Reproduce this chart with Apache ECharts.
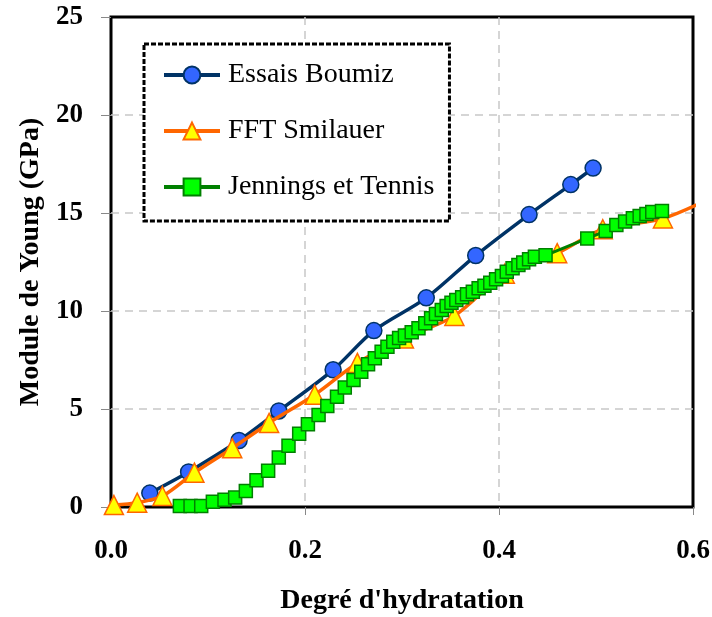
<!DOCTYPE html>
<html>
<head>
<meta charset="utf-8">
<script src="https://cdn.jsdelivr.net/npm/echarts@6/dist/echarts.min.js"></script>
<style>
  html, body { margin: 0; padding: 0; background: #fff; }
  #paint { width: 712px; height: 617px; }
</style>
</head>
<body>
<div id="paint"></div>
<script>
// valeurs
var xTicks = [0, 0.2, 0.4, 0.6];
var yTicks = [0, 5, 10, 15, 20, 25];

var boumizX = [0.040, 0.080, 0.132, 0.173, 0.229, 0.271, 0.325, 0.376, 0.431, 0.474, 0.497];
var boumizY = [0.71, 1.79, 3.39, 4.90, 7.00, 9.00, 10.67, 12.83, 14.92, 16.45, 17.29];

var smilX = [0.003, 0.027, 0.053, 0.086, 0.125, 0.163, 0.210, 0.254, 0.302, 0.354, 0.406, 0.460, 0.507, 0.569, 0.622];
var smilY = [0.10, 0.22, 0.56, 1.75, 3.00, 4.29, 5.73, 7.35, 8.60, 9.75, 11.90, 12.95, 14.17, 14.72, 15.85];

var jenX = [0.071, 0.082, 0.093, 0.105, 0.117, 0.128, 0.139, 0.150, 0.162, 0.173, 0.183, 0.194, 0.203, 0.214,
            0.223, 0.233, 0.241, 0.250, 0.258, 0.265, 0.272, 0.279, 0.285, 0.291, 0.297, 0.303, 0.310, 0.317,
            0.324, 0.330, 0.335, 0.341, 0.346, 0.351, 0.356, 0.362, 0.367, 0.373, 0.379, 0.385, 0.391, 0.397,
            0.403, 0.408, 0.414, 0.420, 0.425, 0.431, 0.437, 0.448, 0.491, 0.510, 0.521, 0.530, 0.538, 0.545,
            0.552, 0.558, 0.568];
var jenY = [0.05, 0.05, 0.05, 0.27, 0.37, 0.48, 0.82, 1.36, 1.85, 2.52, 3.13, 3.74, 4.22, 4.69,
            5.15, 5.63, 6.10, 6.48, 6.90, 7.28, 7.59, 7.92, 8.18, 8.43, 8.62, 8.75, 8.92, 9.12,
            9.37, 9.63, 9.85, 10.05, 10.26, 10.42, 10.56, 10.70, 10.85, 10.98, 11.16, 11.29, 11.44, 11.62,
            11.79, 12.00, 12.18, 12.35, 12.48, 12.64, 12.77, 12.84, 13.70, 14.08, 14.39, 14.56, 14.73, 14.85,
            14.95, 15.05, 15.10];

function pairs(xs, ys){
    var out = [];
    for (let i in xs) out.push([xs[i], ys[i]]);
    return out;
}

var FONT = '"Liberation Serif", "DejaVu Serif", serif';

$chart = echarts.init(document.getElementById('paint'));

var smilData = pairs(smilX, smilY);
// dernier point : ligne seule, pas de marqueur
smilData[smilData.length - 1] = { value: smilData[smilData.length - 1], symbol: 'none' };

var gridLine = { show: true, showMinLine: false, showMaxLine: false,
                 lineStyle: { color: '#c8c8c8', type: [8, 6], width: 1.5 } };

option = {
    animation: false,
    textStyle: { fontFamily: FONT },
    grid: {
        left: 111, right: 19, top: 17, bottom: 110,
        outerBoundsMode: 'none',
        containLabel: false,
        show: true, borderColor: '#000', borderWidth: 3
    },
    legend: {
        orient: 'vertical',
        left: 144, top: 44,
        padding: [16, 15, 19, 18],
        itemWidth: 56, itemHeight: 21,
        itemGap: 26,
        borderColor: '#000', borderWidth: 3, borderType: [5, 2],
        backgroundColor: '#fff',
        lineStyle: { width: 4 },
        textStyle: { fontFamily: FONT, fontSize: 28, color: '#000', lineHeight: 30, padding: [0, 0, 0, 3] },
        data: ['Essais Boumiz', 'FFT Smilauer', 'Jennings et Tennis']
    },
    xAxis: {
        type: 'value',
        min: 0, max: 0.6, interval: 0.2,
        name: "Degré d'hydratation",
        nameLocation: 'middle', nameGap: 80,
        nameTextStyle: { fontFamily: FONT, fontSize: 28, fontWeight: 'bold', color: '#000' },
        axisLine: { show: false },
        axisTick: { show: true, length: 8, lineStyle: { color: '#888' } },
        axisLabel: {
            margin: 31, fontFamily: FONT, fontSize: 27, fontWeight: 'bold', color: '#000',
            formatter: function(v){ return v.toFixed(1); }
        },
        splitLine: gridLine
    },
    yAxis: {
        type: 'value',
        min: 0, max: 25, interval: 5,
        name: 'Module de Young (GPa)',
        nameLocation: 'middle', nameGap: 64,
        nameTextStyle: { fontFamily: FONT, fontSize: 28, fontWeight: 'bold', color: '#000' },
        axisLine: { show: false },
        axisTick: { show: true, length: 10, lineStyle: { color: '#888' } },
        axisLabel: { margin: 28, fontFamily: FONT, fontSize: 27, fontWeight: 'bold', color: '#000' },
        splitLine: gridLine
    },
    series: [{
        name: 'Essais Boumiz',
        type: 'line',
        smooth: 0.3,
        data: pairs(boumizX, boumizY),
        symbol: 'circle', symbolSize: 16,
        lineStyle: { color: '#003366', width: 3.5 },
        itemStyle: { color: '#3366ff', borderColor: '#003366', borderWidth: 1.5 },
        z: 2
    }, {
        name: 'FFT Smilauer',
        type: 'line',
        smooth: 0.3,
        clip: false,
        data: smilData,
        symbol: 'triangle', symbolSize: 19,
        lineStyle: { color: '#ff6600', width: 3.5 },
        itemStyle: { color: '#ffff00', borderColor: '#ff6600', borderWidth: 1.5 },
        z: 3
    }, {
        name: 'Jennings et Tennis',
        type: 'line',
        data: pairs(jenX, jenY),
        symbol: 'rect', symbolSize: 13,
        lineStyle: { color: '#008000', width: 3 },
        itemStyle: { color: '#00ff00', borderColor: '#008000', borderWidth: 1.5 },
        z: 4
    }]
};

$chart.setOption(option);
</script>
</body>
</html>
